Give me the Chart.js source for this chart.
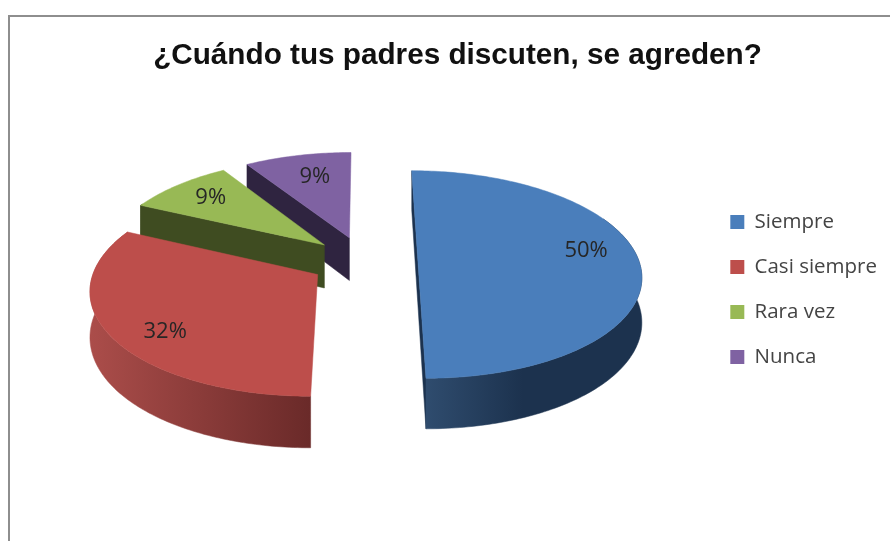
<!DOCTYPE html>
<html><head><meta charset="utf-8">
<script src="https://cdn.jsdelivr.net/npm/chart.js@4"></script>
<style>
html,body{margin:0;padding:0;background:#fff;width:890px;height:541px;overflow:hidden}
#wrap{position:absolute;left:0;top:0;width:890px;height:541px;filter:blur(0.7px)}
#frame{position:absolute;left:8px;top:15px;width:900px;height:560px;border-left:2.5px solid #8e8e8e;border-top:2.5px solid #8e8e8e;box-sizing:border-box}
canvas{position:absolute;left:0;top:0}
</style></head>
<body>
<div id="wrap"><div id="frame"></div><canvas id="c" width="890" height="541"></canvas></div>
<script>
const chartTitle = "¿Cuándo tus padres discuten, se agreden?";
const categories = ["Siempre", "Casi siempre", "Rara vez", "Nunca"];
const percentages = [50, 32, 9, 9];
const faceColors = ["#4a7ebb", "#bd4e4b", "#98b955", "#7f62a2"];
const wallLeftColors = ["#2f4c6e", "#ab4d4a", "#3f4c21", "#2f2440"];
const wallRightColors = ["#1c324e", "#6a2a29", "#3f4c21", "#2f2440"];
const cutWallColors = ["#1c324e", "#6a2a29", "#3f4c21", "#2f2440"];
// label placement inside each slice: share of slice sweep, share of radius
const labelSweep = [0.46, 0.44, 0.52, 0.55];
const labelRadius = [0.78, 0.80, 0.77, 0.72];

// projection of the tilted pie
const view = {cx: 364, cy: 261, rx: 221, ry: 102, persp: 0.13, depth: 44, explode: 0.244};

function project(u, v, down) {
  const f = 1 / (1 - view.persp * v);
  return {x: view.cx + view.rx * u * f,
          y: view.cy + view.ry * v * f + (down ? view.depth * f : 0)};
}
function poly(ctx, pts, fill) {
  ctx.beginPath();
  pts.forEach((p, i) => i === 0 ? ctx.moveTo(p.x, p.y) : ctx.lineTo(p.x, p.y));
  ctx.closePath();
  ctx.fillStyle = fill; ctx.strokeStyle = fill; ctx.lineWidth = 0.5;
  ctx.fill(); ctx.stroke();
}

const pie3d = {
  id: "pie3d",
  beforeDatasetsDraw(chart) {
    const ctx = chart.ctx;
    const arcs = chart.getDatasetMeta(0).data;
    ctx.save();
    // far slices first
    [3, 2, 1, 0].forEach(i => {
      const a = arcs[i];
      const mid = (a.startAngle + a.endAngle) / 2;
      const ou = view.explode * Math.cos(mid), ov = view.explode * Math.sin(mid);
      const rim = [];
      const steps = Math.max(4, Math.round((a.endAngle - a.startAngle) * 60));
      for (let k = 0; k <= steps; k++) {
        const t = a.startAngle + (a.endAngle - a.startAngle) * k / steps;
        rim.push([ou + Math.cos(t), ov + Math.sin(t)]);
      }
      const top = rim.map(p => project(p[0], p[1], false));
      const bot = rim.map(p => project(p[0], p[1], true));
      const apex = project(ou, ov, false), apexD = project(ou, ov, true);
      const s = top[0], e = top[top.length - 1];
      const bs = bot[0], be = bot[bot.length - 1];

      // radial walls
      const showStart = s.x < apex.x && s.y < apex.y;
      const showEnd = e.x > apex.x + 2;
      if (showStart && showEnd) poly(ctx, [apex, s, bs, be, e], cutWallColors[i]);
      else if (showStart) poly(ctx, [apex, s, bs, apexD], cutWallColors[i]);
      else if (showEnd) poly(ctx, [apex, e, be, apexD], cutWallColors[i]);

      // rim wall, only its front part
      let x0 = Infinity, x1 = -Infinity;
      const frontT = [], frontB = [];
      rim.forEach((p, k) => {
        if (p[1] - ov > -0.45) {
          frontT.push(top[k]); frontB.push(bot[k]);
          x0 = Math.min(x0, top[k].x); x1 = Math.max(x1, top[k].x);
        }
      });
      if (frontT.length > 1) {
        const g = ctx.createLinearGradient(x0, 0, x1, 0);
        g.addColorStop(0, wallLeftColors[i]);
        if (i === 0) g.addColorStop(0.45, wallRightColors[i]);
        g.addColorStop(1, wallRightColors[i]);
        poly(ctx, frontT.concat(frontB.slice().reverse()), g);
      }
      // top face
      poly(ctx, [apex].concat(top), faceColors[i]);
    });

    // value labels
    ctx.fillStyle = "#262626";
    ctx.font = "22px 'Open Sans'";
    ctx.textAlign = "center";
    ctx.textBaseline = "middle";
    arcs.forEach((a, i) => {
      const mid = (a.startAngle + a.endAngle) / 2;
      const t = a.startAngle + (a.endAngle - a.startAngle) * labelSweep[i];
      const p = project(view.explode * Math.cos(mid) + labelRadius[i] * Math.cos(t),
                        view.explode * Math.sin(mid) + labelRadius[i] * Math.sin(t), false);
      ctx.fillText(percentages[i] + "%", p.x, p.y);
    });
    ctx.restore();
    return false;
  }
};

new Chart(document.getElementById("c"), {
  type: "pie",
  data: {labels: categories, datasets: [{data: percentages, backgroundColor: faceColors, borderWidth: 0}]},
  plugins: [pie3d],
  options: {
    responsive: false,
    animation: false,
    layout: {padding: {top: 38, right: 3, bottom: 0, left: 28}},
    plugins: {
      tooltip: {enabled: false},
      title: {display: true, text: chartTitle, color: "#111",
              font: {family: "'Liberation Sans'", size: 29.7, weight: "bold"},
              padding: {top: 0, bottom: 102}},
      legend: {position: "right",
               labels: {boxWidth: 14, boxHeight: 14, padding: 24.5, color: "#444",
                        font: {family: "'Open Sans'", size: 20.5}}}
    }
  }
});
</script>
</body></html>
